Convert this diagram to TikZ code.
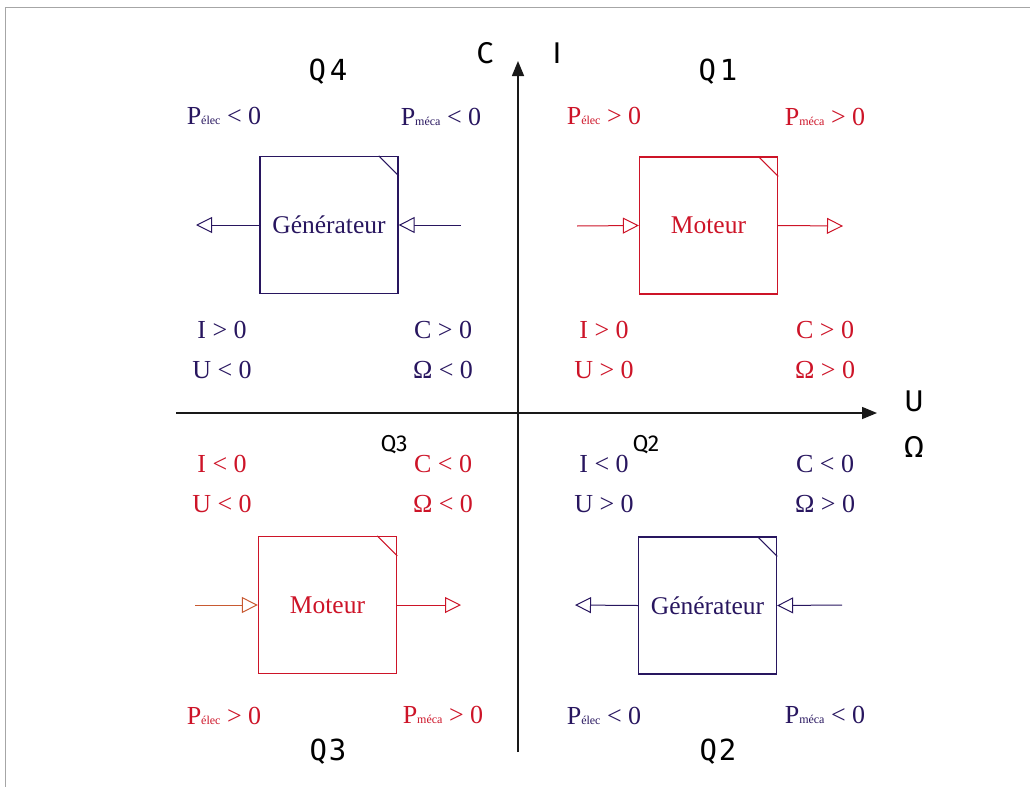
\documentclass[tikz,border=0pt]{standalone}
\usepackage{fontspec}
\setmainfont{Liberation Serif}
\newfontfamily\axfont{Fira Sans}
\newfontfamily\qfont{DejaVu Sans Mono}
\usetikzlibrary{arrows.meta}
\definecolor{rd}{RGB}{205,20,40}
\definecolor{nv}{RGB}{40,22,95}
\definecolor{orng}{RGB}{200,90,50}
\newcommand\Pel{P{\fontsize{12}{12}\selectfont élec}}
\newcommand\Pme{P{\fontsize{12}{12}\selectfont méca}}
\tikzset{
  box/.style={draw, line width=1.3pt, minimum width=138pt, minimum height=137pt, inner sep=0pt, font=\fontsize{25.5}{25.5}\selectfont},
  flow/.style={line width=1pt, -{Triangle[open, length=16pt, width=16pt, fill=white]}},
  lbl/.style={font=\fontsize{26}{26}\selectfont, inner sep=0pt},
  axlbl/.style={font=\axfont\fontsize{30}{30}\selectfont, inner sep=0pt},
  qbig/.style={font=\qfont\fontsize{29}{29}\selectfont, inner sep=0pt},
  qsmall/.style={font=\axfont\fontsize{23}{23}\selectfont, inner sep=0pt},
  axis/.style={line width=1.5pt, black!90, -{Triangle[length=15pt, width=12pt]}},
}
\begin{document}
\begin{tikzpicture}[x=1pt, y=-1pt]
\useasboundingbox (0,0) rectangle (1030,787);
% frame
\draw[gray!70, line width=0.8pt] (1030,7) -- (5,7) -- (5,787);
% axes
\coordinate (yb) at (518,752);
\coordinate (yt) at (518,61);
\coordinate (xl) at (176,413);
\coordinate (xr) at (877,413);
\draw[axis] (yb) -- (yt);
\draw[axis] (xl) -- (xr);
\node[axlbl] (C) at (485,53) {C};
\node[axlbl] (I) at (557,53) {I};
\node[axlbl] (U) at (914,401) {U};
\node[axlbl] (W) at (914,447) {Ω};
% Q labels
\node[qbig] (q4) at (328,72) {Q\hspace{4pt}4};
\node[qbig] (q1) at (718,72) {Q\hspace{4pt}1};
\node[qbig] (q3) at (328,752) {Q\hspace{2pt}3};
\node[qbig] (q2) at (718,752) {Q\hspace{2pt}2};
\node[qsmall] (q3s) at (394,445) {Q3};
\node[qsmall] (q2s) at (646,445) {Q2};

% ---------- Q4 (navy) ----------
\begin{scope}[nv]
\node[lbl] (q4pe) at (224,116) {\Pel\ < 0};
\node[lbl] (q4pm) at (441,117) {\Pme\ < 0};
\node[box, draw=nv, text=nv] (g4) at (329,225) {Générateur};
\draw[line width=1pt] ([xshift=-20pt]g4.north east) -- ([yshift=-20pt]g4.north east);
\coordinate (g4l) at (196,225);
\coordinate (g4r) at (461,225);
\draw[flow] (g4.west) -- (g4l);
\draw[flow] (g4r) -- (g4.east);
\node[lbl] (q4i) at (222,330) {I > 0};
\node[lbl] (q4c) at (443,330) {C > 0};
\node[lbl] (q4u) at (222,370) {U < 0};
\node[lbl] (q4w) at (443,370) {Ω < 0};
\end{scope}

% ---------- Q1 (red) ----------
\begin{scope}[rd]
\node[lbl] (q1pe) at (604,116) {\Pel\ > 0};
\node[lbl] (q1pm) at (825,117) {\Pme\ > 0};
\node[box, draw=rd, text=rd] (m1) at (708.5,225.5) {Moteur};
\draw[line width=1pt] ([xshift=-20pt]m1.north east) -- ([yshift=-20pt]m1.north east);
\coordinate (m1l) at (577,226);
\coordinate (m1r) at (843,226);
\draw[flow] (m1l) -- (m1.west);
\draw[flow] (m1.east) -- (m1r);
\node[lbl] (q1i) at (604,330) {I > 0};
\node[lbl] (q1c) at (825,330) {C > 0};
\node[lbl] (q1u) at (604,370) {U > 0};
\node[lbl] (q1w) at (825,370) {Ω > 0};
\end{scope}

% ---------- Q3 (red) ----------
\begin{scope}[rd]
\node[lbl] (q3i) at (222,464) {I < 0};
\node[lbl] (q3c) at (443,464) {C < 0};
\node[lbl] (q3u) at (222,504) {U < 0};
\node[lbl] (q3w) at (443,504) {Ω < 0};
\node[box, draw=rd, text=rd] (m3) at (327.5,605) {Moteur};
\draw[line width=1pt] ([xshift=-20pt]m3.north east) -- ([yshift=-20pt]m3.north east);
\coordinate (m3l) at (195,605);
\coordinate (m3r) at (461,605);
\draw[flow, orng] (m3l) -- (m3.west);
\draw[flow] (m3.east) -- (m3r);
\node[lbl] (q3pe) at (224,716) {\Pel\ > 0};
\node[lbl] (q3pm) at (443,715) {\Pme\ > 0};
\end{scope}

% ---------- Q2 (navy) ----------
\begin{scope}[nv]
\node[lbl] (q2i) at (604,464) {I < 0};
\node[lbl] (q2c) at (825,464) {C < 0};
\node[lbl] (q2u) at (604,504) {U > 0};
\node[lbl] (q2w) at (825,504) {Ω > 0};
\node[box, draw=nv, text=nv] (g2) at (707.5,605.5) {Générateur};
\draw[line width=1pt] ([xshift=-20pt]g2.north east) -- ([yshift=-20pt]g2.north east);
\coordinate (g2l) at (575,605);
\coordinate (g2r) at (842,605);
\draw[flow] (g2.west) -- (g2l);
\draw[flow] (g2r) -- (g2.east);
\node[lbl] (q2pe) at (604,716) {\Pel\ < 0};
\node[lbl] (q2pm) at (825,715) {\Pme\ < 0};
\end{scope}
\end{tikzpicture}
\end{document}
